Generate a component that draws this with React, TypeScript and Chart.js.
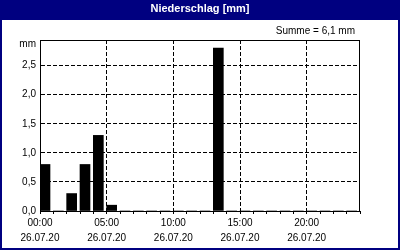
import React, { useEffect, useRef } from "react";
import { Chart, registerables } from "chart.js";

Chart.register(...registerables);

const TITLE = "Niederschlag [mm]";
const UNIT = "mm";
const DATE_LABEL = "26.07.20";
const HOURS = [0, 1, 2, 3, 4, 5, 6, 7, 8, 9, 10, 11, 12, 13, 14, 15, 16, 17, 18, 19, 20, 21, 22, 23];
const VALUES = [0.8, 0, 0.3, 0.8, 1.3, 0.1, 0, 0, 0, 0, 0, 0, 0, 2.8, 0, 0, 0, 0, 0, 0, 0, 0, 0, 0];
const Y_TICKS_STEP = 0.5;
const Y_MAX = 2.94;
const X_LABEL_STEP = 5;

const fmt = (v: number) => v.toFixed(1).replace(".", ",");

const framePlugin = {
  id: "frame",
  beforeDraw(chart: any) {
    const { ctx, width, height } = chart;
    ctx.save();
    ctx.fillStyle = "#ffffff";
    ctx.fillRect(0, 0, width, height);
    ctx.fillStyle = "#000080";
    ctx.fillRect(0, 0, width, 20);
    ctx.fillRect(0, 0, 2, height);
    ctx.fillRect(width - 2, 0, 2, height);
    ctx.fillRect(0, height - 2, width, 2);
    ctx.fillStyle = "#ffffff";
    ctx.font = "bold 11px 'Liberation Sans'";
    ctx.textAlign = "center";
    ctx.textBaseline = "middle";
    ctx.fillText(TITLE, width / 2, 9);
    const sum = VALUES.reduce((a, b) => a + b, 0);
    ctx.fillStyle = "#000000";
    ctx.font = "10px 'Liberation Sans'";
    ctx.textAlign = "right";
    ctx.fillText("Summe = " + fmt(sum) + " " + UNIT, 355, 31);
    ctx.textBaseline = "alphabetic";
    ctx.fillText(UNIT, 36, 47);
    ctx.restore();
  },
  afterDraw(chart: any) {
    const { ctx, chartArea } = chart;
    ctx.save();
    ctx.strokeStyle = "#000000";
    ctx.lineWidth = 1;
    ctx.strokeRect(
      Math.round(chartArea.left) + 0.5,
      Math.round(chartArea.top) + 0.5,
      Math.round(chartArea.right - chartArea.left) - 1,
      Math.round(chartArea.bottom - chartArea.top)
    );
    ctx.restore();
  },
};

export default function App() {
  const ref = useRef<HTMLCanvasElement>(null);
  useEffect(() => {
    document.body.style.margin = "0";
    const chart = new Chart(ref.current!, {
      type: "bar",
      data: {
        datasets: [
          {
            data: HOURS.map((h, i) => ({ x: h + 0.375, y: VALUES[i] })),
            backgroundColor: "#000000",
            borderWidth: 0,
            barThickness: 10,
          },
        ],
      },
      options: {
        animation: false,
        responsive: false,
        layout: { padding: { top: 40, right: 40, left: 0, bottom: 0 }, autoPadding: false },
        plugins: { legend: { display: false }, tooltip: { enabled: false }, title: { display: false } },
        scales: {
          x: {
            type: "linear",
            min: 0,
            max: 24,
            offset: false,
            afterFit: (s: any) => {
              s.height = 39;
            },
            ticks: {
              stepSize: 1,
              autoSkip: false,
              maxRotation: 0,
              padding: 2,
              color: "#000000",
              font: { family: "'Liberation Sans'", size: 10, lineHeight: 1.5 },
              callback: (v: any) => {
                const n = Number(v);
                if (n % X_LABEL_STEP !== 0 || n >= 24) return "";
                return [String(n).padStart(2, "0") + ":00", DATE_LABEL];
              },
            },
            grid: {
              offset: false,
              color: (c: any) => {
                const v = c.tick ? c.tick.value : 0;
                return v % X_LABEL_STEP === 0 && v > 0 && v < 24 ? "#000000" : "rgba(0,0,0,0)";
              },
              tickColor: "#000000",
              tickLength: 3,
              lineWidth: 1,
            },
            border: { display: true, color: "#000000", dash: [4, 2] },
          },
          y: {
            min: 0,
            max: Y_MAX,
            afterFit: (s: any) => {
              s.width = 40;
            },
            ticks: {
              stepSize: Y_TICKS_STEP,
              includeBounds: false,
              padding: 4,
              color: "#000000",
              font: { family: "'Liberation Sans'", size: 10 },
              callback: (v: any) => fmt(Number(v)),
            },
            grid: {
              drawTicks: false,
              color: (c: any) => (c.tick && c.tick.value > 0 ? "#000000" : "rgba(0,0,0,0)"),
            },
            border: { display: true, color: "#000000", dash: [4, 2] },
          },
        },
      },
      plugins: [framePlugin],
    });
    return () => chart.destroy();
  }, []);
  return <canvas ref={ref} width={400} height={250} style={{ display: "block" }} />;
}
